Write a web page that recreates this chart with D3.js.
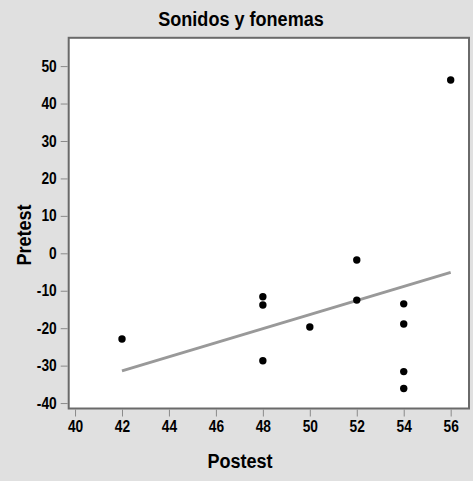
<!DOCTYPE html>
<html>
<head>
<meta charset="utf-8">
<script src="https://cdn.jsdelivr.net/npm/d3@7"></script>
<style>
  body { margin: 0; background: #e0e0e0; }
  text { font-family: "Liberation Sans", Arial, sans-serif; font-weight: bold; fill: #000; }
</style>
</head>
<body>
<script>
// data
var postest = [42, 48, 48, 48, 50, 52, 52, 54, 54, 54, 54, 56];
var pretest = [-22.9, -11.6, -13.8, -28.7, -19.7, -1.8, -12.5, -13.5, -18.9, -31.6, -36.1, 46.3];
var fitX = [42, 56];
var fitY = [-31.4, -5.1];
var xTicks = [40, 42, 44, 46, 48, 50, 52, 54, 56];
var yTicks = [-40, -30, -20, -10, 0, 10, 20, 30, 40, 50];

var width = 473, height = 481;
var svg = d3.select("body").append("svg")
    .attr("width", width)
    .attr("height", height);

svg.append("rect")
    .attr("width", width).attr("height", height)
    .attr("fill", "#e0e0e0");

var pLeft = 68.7, pRight = 469, pTop = 37.8, pBottom = 408.5;
var squeeze = 0.86; // narrow look of the original font

var x = d3.scaleLinear().domain([39.73, 56.78]).range([pLeft, pRight]);
var y = d3.scaleLinear().domain([-41.45, 57.56]).range([pBottom, pTop]);

// plot frame
svg.append("rect")
    .attr("x", pLeft).attr("y", pTop)
    .attr("width", pRight - pLeft).attr("height", pBottom - pTop)
    .attr("fill", "#fff")
    .attr("stroke", "#6a6a6a")
    .attr("stroke-width", 2);

// axes (plain hyphen for negatives, like the original)
var fmt = function(d) { return String(d); };
var xAxis = svg.append("g")
    .attr("transform", "translate(0," + (pBottom + 1) + ")")
    .call(d3.axisBottom(x).tickValues(xTicks).tickFormat(fmt).tickSize(7).tickPadding(4));
var yAxis = svg.append("g")
    .attr("transform", "translate(" + (pLeft - 1) + ",0)")
    .call(d3.axisLeft(y).tickValues(yTicks).tickFormat(fmt).tickSize(7).tickPadding(4));

[xAxis, yAxis].forEach(function(a) {
  a.select(".domain").remove();
  a.selectAll(".tick line").attr("stroke", "#8a8a8a");
  a.selectAll(".tick text")
    .attr("font-family", null)
    .style("font-weight", "bold")
    .style("font-size", "16px")
    .attr("fill", "#000");
});
xAxis.selectAll(".tick text").attr("transform", "scale(" + squeeze + ",1)");
yAxis.selectAll(".tick text")
    .attr("x", -11 / squeeze)
    .attr("transform", "scale(" + squeeze + ",1)");

// fit line
var line = d3.line()
    .x(function(d) { return x(d[0]); })
    .y(function(d) { return y(d[1]); });
svg.append("path")
    .datum(d3.zip(fitX, fitY))
    .attr("d", line)
    .attr("fill", "none")
    .attr("stroke", "#999")
    .attr("stroke-width", 3);

// points
svg.append("g")
  .selectAll("circle")
  .data(d3.zip(postest, pretest))
  .enter()
  .append("circle")
    .attr("cx", function(d) { return x(d[0]); })
    .attr("cy", function(d) { return y(d[1]); })
    .attr("r", 3.7)
    .attr("fill", "#000");

// titles
svg.append("text")
    .attr("transform", "translate(241,26) scale(" + squeeze + ",1)")
    .attr("text-anchor", "middle")
    .style("font-size", "21px")
    .text("Sonidos y fonemas");

svg.append("text")
    .attr("transform", "translate(240,468) scale(" + squeeze + ",1)")
    .attr("text-anchor", "middle")
    .style("font-size", "21px")
    .text("Postest");

svg.append("text")
    .attr("transform", "translate(31,235) rotate(-90) scale(" + squeeze + ",1)")
    .attr("text-anchor", "middle")
    .style("font-size", "21px")
    .text("Pretest");
</script>
</body>
</html>
